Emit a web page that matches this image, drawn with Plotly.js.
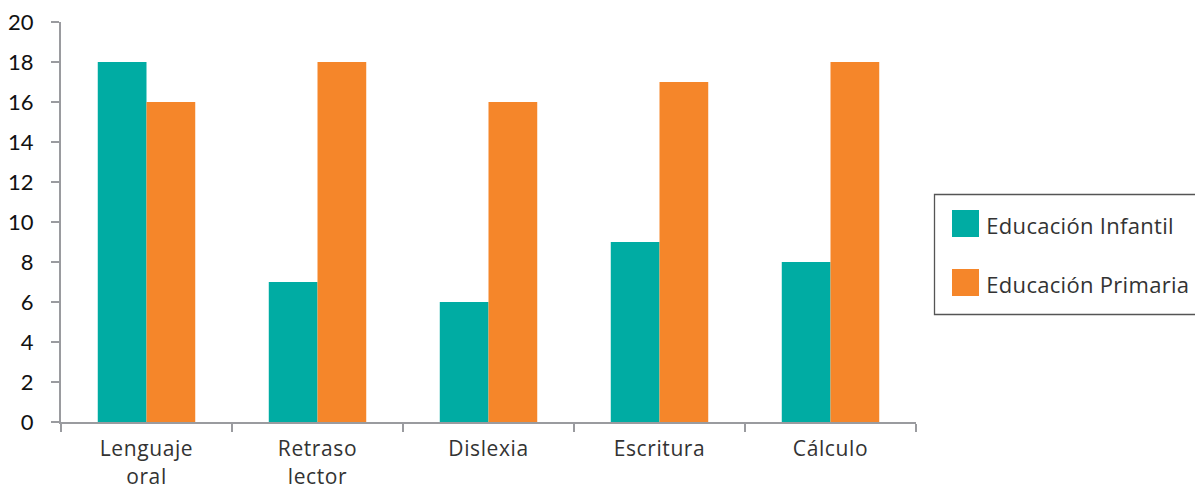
<!DOCTYPE html>
<html>
<head>
<meta charset="utf-8">
<script src="https://cdn.plot.ly/plotly-3.0.1.min.js"></script>
<style>
  html, body { margin: 0; padding: 0; background: #ffffff; }
  #chart { width: 1195px; height: 487px; }
  #chart .xtick text { letter-spacing: 0.6px; }
  #chart .annotation-text { letter-spacing: 0.3px; }
</style>
</head>
<body>
<div id="chart"></div>
<script>
// Dificultades por etapa educativa
const categories = ['Lenguaje<br>oral', 'Retraso<br>lector', 'Dislexia', 'Escritura', 'Cálculo'];
const seriesNames = ['Educación Infantil', 'Educación Primaria'];
const infantil = [18, 7, 6, 9, 8];
const primaria = [16, 18, 16, 17, 18];
const colors = ['#00ACA3', '#F5862A'];

const W = 1195, H = 487;
const M = { l: 61, r: 279, t: 22, b: 65 };
const plotW = W - M.l - M.r, plotH = H - M.t - M.b;
// pixel -> paper coordinates
const px = x => (x - M.l) / plotW;
const py = y => (H - M.b - y) / plotH;

const traces = [infantil, primaria].map((vals, i) => ({
  type: 'bar',
  name: seriesNames[i],
  x: categories,
  y: vals,
  marker: { color: colors[i], line: { width: 0 } },
  hoverinfo: 'skip',
  showlegend: false
}));

// custom legend box with large swatches
const shapes = [{
  type: 'rect', xref: 'paper', yref: 'paper',
  x0: px(934.5), x1: px(1205), y0: py(194.5), y1: py(314.5),
  line: { color: '#555555', width: 1.3 }, fillcolor: 'rgba(0,0,0,0)'
}];
const annotations = [];
seriesNames.forEach((name, i) => {
  const cy = 223.5 + i * 59;
  shapes.push({
    type: 'rect', xref: 'paper', yref: 'paper',
    x0: px(952), x1: px(979), y0: py(cy - 13.5), y1: py(cy + 13.5),
    line: { width: 0 }, fillcolor: colors[i]
  });
  annotations.push({
    xref: 'paper', yref: 'paper', x: px(987), y: py(cy + 1),
    xanchor: 'left', yanchor: 'middle', showarrow: false,
    text: name, font: { family: '"Open Sans", sans-serif', size: 22, color: '#333333' }
  });
});

const layout = {
  width: W, height: H,
  margin: M,
  paper_bgcolor: '#ffffff', plot_bgcolor: '#ffffff',
  barmode: 'group',
  bargap: 0.43,
  bargroupgap: 0,
  showlegend: false,
  xaxis: {
    type: 'category',
    tickson: 'boundaries',
    ticks: 'outside', ticklen: 8, tickwidth: 2, tickcolor: '#9a9b9f',
    showline: true, linecolor: '#9a9b9f', linewidth: 2,
    showgrid: false, zeroline: false,
    tickfont: { family: '"Open Sans", sans-serif', size: 21, color: '#333333' },
    ticklabelstandoff: 7
  },
  yaxis: {
    range: [0, 20], dtick: 2, tick0: 0,
    ticks: 'outside', ticklen: 8, tickwidth: 2, tickcolor: '#9a9b9f',
    showline: true, linecolor: '#9a9b9f', linewidth: 2,
    showgrid: false, zeroline: false,
    tickfont: { family: 'Lato, sans-serif', size: 22, color: '#111111' },
    ticklabelstandoff: 13
  },
  shapes: shapes,
  annotations: annotations
};

Plotly.newPlot('chart', traces, layout, { displayModeBar: false, staticPlot: true });
</script>
</body>
</html>
